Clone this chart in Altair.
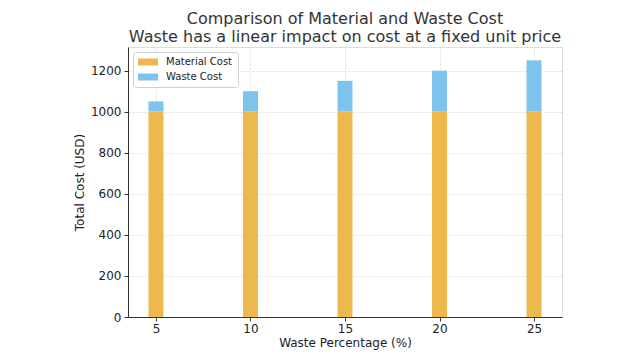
import altair as alt
import pandas as pd

waste_pct = [5, 10, 15, 20, 25]
material_cost = [1000, 1000, 1000, 1000, 1000]
waste_cost = [50, 100, 150, 200, 250]

rows = []
for p, m, w in zip(waste_pct, material_cost, waste_cost):
    rows.append({"pct": p, "cost": m, "type": "Material Cost"})
    rows.append({"pct": p, "cost": w, "type": "Waste Cost"})
df = pd.DataFrame(rows)

font = "DejaVu Sans"
axis_common = dict(grid=True, gridDash=[2, 2], gridColor="#dcdcdc", domainColor="#333333",
                   tickColor="#333333", tickSize=4, labelFontSize=12, titleFontSize=12,
                   labelColor="#222222", titleColor="#222222", titleFontWeight="normal",
                   labelFont=font, titleFont=font)

chart = alt.Chart(df).mark_bar(size=15).encode(
    x=alt.X("pct:Q", title="Waste Percentage (%)",
            scale=alt.Scale(domain=[3.52, 26.48], nice=False, zero=False, padding=0),
            axis=alt.Axis(values=waste_pct, format="d", labelPadding=2, titlePadding=3,
                          **axis_common)),
    y=alt.Y("cost:Q", title="Total Cost (USD)", stack="zero",
            scale=alt.Scale(domain=[0, 1315], nice=False),
            axis=alt.Axis(values=[0, 200, 400, 600, 800, 1000, 1200], format="d",
                          labelPadding=3, titlePadding=4, **axis_common)),
    color=alt.Color("type:N", title=None,
                    scale=alt.Scale(domain=["Material Cost", "Waste Cost"],
                                    range=["#EDB94C", "#7DC3EC"]),
                    legend=alt.Legend(orient="none", legendX=5, legendY=5,
                                      fillColor="white", strokeColor="#d0d0d0",
                                      padding=5, cornerRadius=3,
                                      symbolType="M-2,-0.7H2V0.7H-2Z",
                                      symbolSize=100, symbolOffset=5,
                                      labelFontSize=10, labelFont=font,
                                      labelColor="#222222", rowPadding=5, symbolStrokeWidth=0,
                                      symbolOpacity=1, labelOffset=13)),
    order=alt.Order("type:N", sort="ascending"),
).properties(
    width=434, height=270,
    autosize=alt.AutoSizeParams(type="none"),
    padding={"left": 120, "top": 39, "right": 70, "bottom": 35},
    title=alt.TitleParams(
        text=["Comparison of Material and Waste Cost",
              "Waste has a linear impact on cost at a fixed unit price"],
        fontSize=16, font=font, fontWeight="normal", color="#333333",
        anchor="middle", offset=2, lineHeight=18,
    ),
).configure_view(stroke=None).configure(background="white")

chart.save("out.html", embed_options={"renderer": "svg", "actions": False})
